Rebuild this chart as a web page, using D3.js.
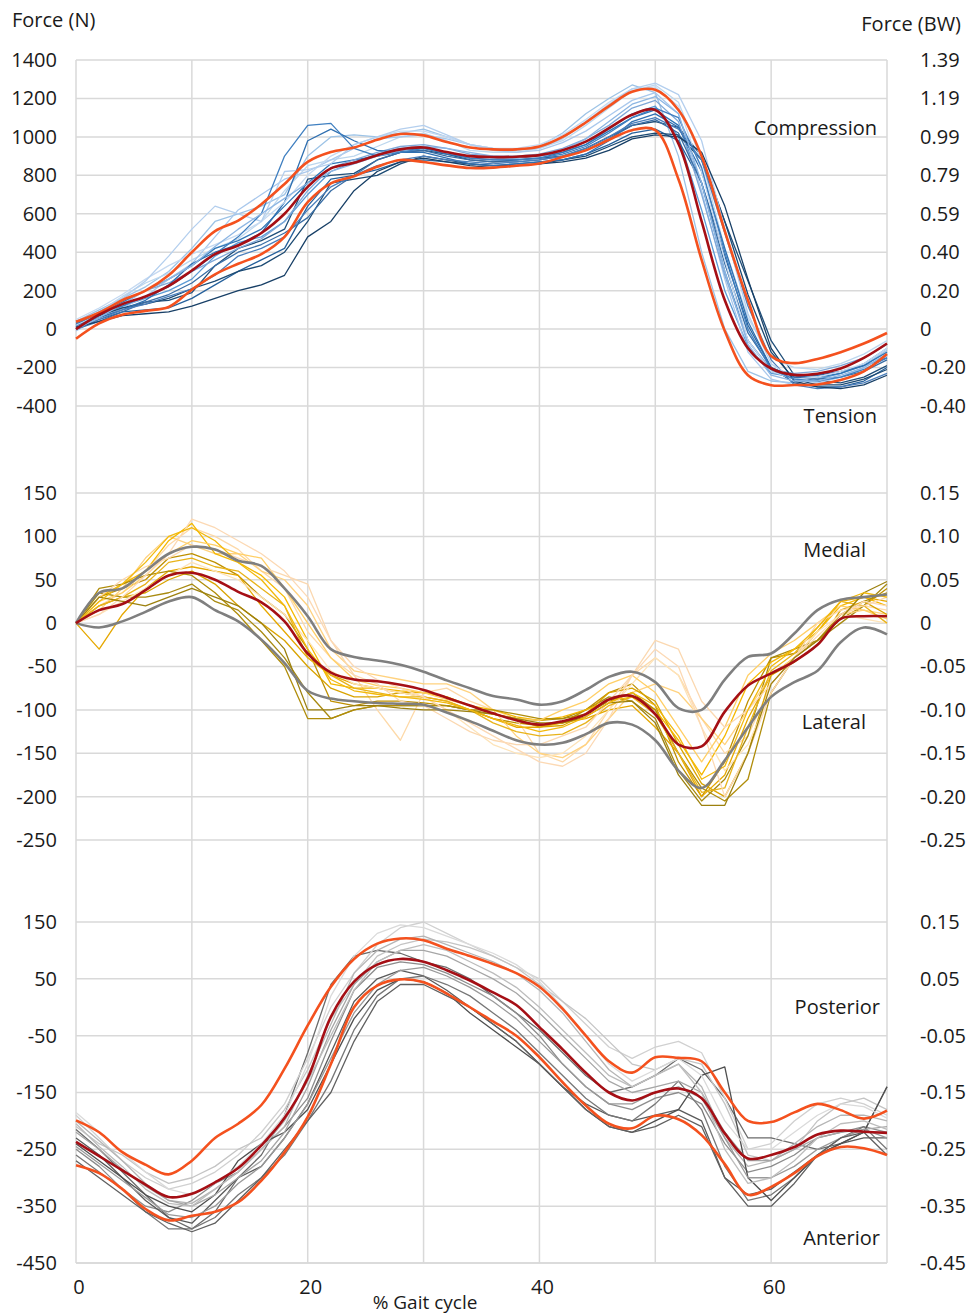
<!DOCTYPE html>
<html>
<head>
<meta charset="utf-8">
<script src="https://cdnjs.cloudflare.com/ajax/libs/d3/7.8.5/d3.min.js"></script>
<style>
  body { margin: 0; background: #fff; }
  svg text { font-family: "Open Sans", sans-serif; fill: #1a1a1a; }
</style>
</head>
<body>
<svg id="chart" width="968" height="1314"></svg>
<script>
// % gait cycle sample points (every 2 %)
var gaitPct = [0,2,4,6,8,10,12,14,16,18,20,22,24,26,28,30,32,34,36,38,40,42,44,46,48,50,52,54,56,58,60,62,64,66,68,70];

// ---- compression / tension (N)
var compMean = [0,75,130,170,225,305,390,435,500,600,740,836,865,905,935,945,921,900,895,897,905,930,975,1045,1115,1140,965,560,150,-100,-205,-238,-232,-205,-150,-75];
var compSdHi = [38,85,150,200,280,400,510,565,650,755,870,921,945,985,1015,1008,973,945,935,935,950,1000,1075,1160,1235,1245,1140,900,510,150,-140,-177,-155,-120,-75,-20];
var compSdLo = [-50,30,75,95,115,205,285,340,390,480,660,758,795,845,880,869,852,838,840,850,862,895,930,985,1035,1035,780,360,-10,-240,-292,-291,-288,-265,-220,-130];
var compTrials = [
  [20,60,110,140,150,190,330,420,460,520,780,800,810,880,920,930,910,880,870,880,890,900,940,1000,1060,1080,1050,900,560,250,-60,-240,-270,-280,-250,-190],
  [40,100,160,220,300,420,560,600,640,700,900,1000,1010,1000,1020,1040,1000,960,940,930,950,1020,1120,1200,1270,1230,900,400,0,-220,-270,-280,-260,-230,-190,-110],
  [0,70,120,160,200,260,380,450,480,560,700,820,870,910,940,950,920,900,890,890,900,920,960,1040,1120,1160,1000,620,200,-90,-230,-250,-260,-230,-180,-100],
  [10,50,90,100,110,160,230,300,360,420,640,780,800,830,870,880,870,860,850,860,870,880,910,960,1020,1040,980,760,380,20,-200,-280,-300,-300,-270,-200],
  [30,90,170,240,290,360,420,470,560,720,850,880,900,950,1000,1020,980,930,920,920,940,980,1060,1150,1240,1270,1180,880,420,60,-150,-200,-210,-180,-130,-60],
  [20,80,140,200,260,330,420,460,520,640,760,860,880,900,930,940,910,890,880,880,890,920,960,1030,1100,1140,1060,760,300,-60,-220,-260,-250,-230,-190,-120],
  [-10,60,110,170,260,340,480,620,700,780,820,880,940,990,1000,1010,990,960,930,920,930,970,1030,1110,1190,1230,1120,720,260,-120,-260,-290,-280,-250,-200,-140],
  [30,70,110,130,160,210,250,300,330,400,560,760,780,800,860,900,880,860,850,850,860,880,900,950,1000,1020,1010,880,560,180,-120,-260,-290,-290,-260,-210],
  [10,90,150,200,240,300,360,420,470,560,720,840,880,920,950,960,940,910,900,900,910,940,990,1060,1150,1190,1080,700,280,-60,-210,-230,-220,-190,-150,-80],
  [0,40,90,140,180,240,330,400,440,500,580,720,800,880,920,930,900,880,870,870,880,900,930,990,1060,1090,1020,760,340,-20,-200,-250,-260,-250,-220,-160],
  [20,60,100,150,230,340,400,440,500,660,980,1040,980,930,920,920,890,860,850,860,870,880,910,980,1080,1120,1050,820,420,40,-200,-250,-240,-220,-190,-150],
  [50,110,180,260,330,390,440,490,560,660,800,900,960,1000,1030,1030,1000,960,940,940,960,1010,1090,1180,1250,1260,1160,820,360,-60,-220,-260,-250,-220,-180,-100],
  [0,50,100,130,170,210,280,380,420,480,620,740,800,850,880,900,880,870,860,870,880,900,940,1000,1070,1100,1040,880,500,120,-160,-290,-310,-300,-280,-230],
  [20,80,160,250,380,520,640,600,560,820,830,860,960,1000,1040,1060,1010,960,940,930,940,990,1080,1170,1250,1280,1220,980,520,80,-180,-260,-280,-250,-200,-130],
  [10,40,70,80,90,120,160,200,230,280,480,560,720,820,870,890,870,850,840,850,860,870,890,930,990,1010,1000,920,640,260,-100,-270,-300,-310,-290,-240],
  [30,80,120,170,220,300,390,480,600,900,1060,1070,940,900,920,940,920,890,880,880,890,910,950,1020,1100,1150,1100,840,400,0,-210,-260,-270,-250,-210,-150],
  [0,60,130,200,260,330,430,520,600,680,760,820,860,900,930,950,940,920,900,890,900,930,990,1080,1170,1210,1120,760,300,-80,-240,-270,-270,-240,-200,-130]
];
var compColors = ["#1f4e79","#9dc3e6","#5b9bd5","#26619c","#bdd7ee","#2e75b6","#a9c8ec","#1c4a73","#7fa8d8","#3a6ea5","#2f6fb0","#c5d9f1","#4a7ebb","#b4cfee","#173f66","#3f7fc0","#8db6e3"];

// ---- medial / lateral (N)
var mlMean = [0,15,22,38,55,58,50,36,24,2,-35,-57,-65,-67,-71,-77,-86,-95,-104,-112,-117,-113,-105,-88,-84,-105,-140,-142,-102,-72,-58,-44,-25,5,8,8];
var mlSdHi = [0,35,40,60,80,88,85,72,66,40,8,-30,-39,-43,-48,-56,-66,-75,-84,-88,-94,-90,-77,-62,-56,-68,-98,-100,-65,-39,-35,-12,15,27,30,33];
var mlSdLo = [0,-5,2,13,25,30,15,2,-19,-46,-78,-87,-90,-92,-93,-94,-103,-113,-124,-135,-140,-138,-128,-115,-117,-135,-170,-190,-158,-120,-85,-68,-55,-22,-5,-13];
var mlTrials = [
  [0,30,40,50,75,80,70,55,30,10,-30,-90,-95,-90,-90,-92,-95,-100,-110,-115,-118,-115,-100,-80,-70,-95,-160,-200,-160,-90,-40,-35,-20,5,20,40],
  [0,20,35,60,90,110,100,85,60,40,-10,-40,-60,-100,-135,-80,-75,-90,-100,-110,-150,-160,-140,-100,-60,-40,-60,-110,-150,-130,-70,-40,-20,10,20,15],
  [0,-30,10,40,60,65,60,55,20,-10,-40,-60,-70,-75,-80,-85,-90,-100,-110,-120,-120,-115,-110,-100,-95,-120,-150,-200,-175,-110,-60,-40,-10,25,30,25],
  [0,35,30,30,35,45,25,15,-10,-40,-80,-110,-100,-95,-95,-95,-95,-100,-105,-110,-112,-110,-100,-85,-90,-110,-170,-205,-180,-130,-40,-30,-20,0,20,45],
  [0,15,40,75,100,90,80,80,60,50,20,-30,-55,-60,-65,-70,-70,-80,-100,-130,-150,-155,-140,-110,-80,-70,-80,-110,-140,-100,-60,-40,-20,10,15,10],
  [0,20,30,35,50,60,45,20,0,-20,-50,-75,-85,-85,-80,-80,-85,-95,-105,-110,-120,-118,-105,-80,-75,-90,-140,-185,-200,-150,-60,-45,-25,15,25,10],
  [0,30,45,60,95,115,80,70,55,30,-20,-70,-75,-75,-78,-80,-85,-95,-100,-108,-112,-108,-100,-90,-85,-100,-135,-175,-130,-70,-45,-30,-10,20,30,20],
  [0,10,25,40,55,70,60,50,30,10,-20,-55,-70,-75,-80,-85,-100,-120,-140,-150,-155,-150,-130,-100,-70,-40,-60,-120,-170,-140,-80,-40,-10,10,5,0],
  [0,40,45,55,60,55,35,10,-20,-50,-110,-110,-100,-95,-95,-95,-95,-100,-100,-105,-110,-110,-105,-90,-80,-100,-150,-190,-205,-180,-80,-40,-20,10,25,35],
  [0,25,35,55,80,95,90,80,75,40,0,-40,-65,-72,-75,-80,-88,-95,-105,-110,-112,-100,-90,-70,-60,-80,-120,-160,-120,-60,-35,-20,0,20,15,5],
  [0,20,30,45,70,75,65,60,40,20,-40,-60,-75,-80,-85,-85,-90,-100,-115,-125,-130,-128,-115,-95,-85,-105,-150,-195,-190,-120,-55,-35,-5,25,20,0],
  [0,30,50,65,75,90,85,75,65,55,45,-20,-60,-70,-90,-95,-110,-125,-135,-140,-140,-130,-120,-90,-60,-20,-30,-90,-120,-100,-70,-40,0,15,20,30],
  [0,10,30,55,80,120,110,95,80,60,30,-20,-50,-65,-75,-85,-100,-115,-130,-145,-160,-165,-150,-110,-60,-30,-50,-120,-200,-150,-80,-40,-15,10,25,20],
  [0,30,25,20,30,40,30,20,0,-30,-100,-100,-95,-95,-98,-100,-100,-102,-105,-110,-115,-115,-108,-92,-90,-115,-175,-210,-210,-150,-70,-40,-20,5,35,48],
  [0,25,45,70,100,110,95,70,50,20,-30,-65,-78,-82,-85,-88,-92,-100,-110,-118,-125,-120,-108,-92,-80,-95,-130,-180,-165,-100,-50,-30,-5,25,35,30]
];
var mlColors = ["#bf9000","#fdd9a8","#e6a800","#a88a10","#ffd27f","#d9a300","#f5b800","#fde3b8","#b08d0a","#ffcf66","#e8b31a","#fbd8b0","#fcd9b4","#9c800e","#f2b90c"];

// ---- posterior / anterior (N)
var apMean = [-237,-262,-287,-312,-334,-328,-308,-283,-243,-195,-125,-17,45,75,85,80,65,47,26,4,-35,-74,-115,-150,-164,-150,-143,-160,-222,-266,-260,-246,-224,-217,-219,-221];
var apSdHi = [-199,-220,-255,-277,-294,-270,-230,-205,-172,-108,-32,36,85,112,121,118,103,90,76,60,36,-3,-50,-95,-115,-88,-89,-95,-150,-200,-202,-185,-170,-181,-196,-182];
var apSdLo = [-278,-292,-320,-355,-375,-367,-360,-343,-305,-255,-193,-100,0,38,49,44,24,0,-25,-50,-88,-132,-173,-205,-213,-191,-197,-225,-276,-330,-316,-292,-262,-246,-248,-260];
var apTrials = [
  [-215,-250,-290,-330,-370,-390,-360,-300,-260,-190,-80,40,90,100,95,80,70,50,20,-10,-40,-80,-120,-150,-140,-120,-90,-110,-160,-230,-230,-240,-250,-240,-220,-140],
  [-190,-230,-270,-300,-320,-310,-290,-260,-220,-170,-90,0,60,110,140,150,130,110,90,70,50,10,-30,-70,-90,-70,-60,-80,-160,-250,-240,-200,-170,-160,-170,-190],
  [-250,-280,-320,-350,-360,-340,-310,-290,-250,-210,-160,-60,30,70,80,75,60,40,20,-10,-50,-100,-140,-170,-180,-160,-150,-170,-240,-290,-280,-260,-230,-220,-210,-220],
  [-230,-260,-300,-340,-370,-380,-340,-300,-280,-230,-170,-80,10,50,65,55,30,0,-30,-60,-100,-140,-170,-190,-200,-190,-180,-200,-300,-330,-320,-290,-260,-240,-230,-230],
  [-210,-240,-260,-290,-310,-300,-280,-250,-230,-180,-110,-20,40,90,110,120,115,105,90,70,40,10,-20,-60,-100,-110,-90,-100,-170,-260,-270,-250,-200,-170,-160,-180],
  [-260,-290,-320,-360,-390,-390,-370,-330,-300,-260,-200,-130,-40,20,50,55,40,20,-10,-40,-80,-120,-160,-190,-200,-170,-130,-180,-280,-340,-330,-300,-260,-230,-210,-250],
  [-200,-235,-270,-310,-340,-345,-320,-290,-250,-210,-120,-30,60,100,120,125,110,95,80,60,30,-10,-60,-110,-140,-120,-100,-140,-230,-280,-270,-240,-210,-190,-190,-200],
  [-240,-270,-300,-330,-350,-360,-330,-270,-240,-220,-180,-100,-20,30,50,45,25,-10,-40,-70,-100,-140,-180,-210,-220,-200,-180,-120,-105,-300,-340,-300,-260,-240,-220,-140],
  [-220,-250,-285,-315,-340,-350,-330,-300,-270,-220,-140,-40,40,80,100,100,90,70,50,25,-10,-50,-90,-130,-150,-140,-130,-150,-220,-270,-270,-250,-230,-220,-215,-210],
  [-245,-275,-305,-335,-365,-370,-350,-310,-280,-230,-170,-90,-10,40,65,70,55,35,10,-20,-60,-100,-140,-170,-170,-150,-140,-160,-230,-300,-300,-280,-250,-230,-215,-230],
  [-185,-220,-255,-290,-320,-330,-310,-280,-240,-190,-100,20,90,130,145,140,125,110,95,75,45,0,-50,-100,-130,-110,-90,-120,-200,-250,-250,-220,-190,-170,-175,-195],
  [-270,-300,-330,-360,-380,-395,-380,-340,-300,-250,-200,-150,-60,10,40,40,20,0,-30,-60,-100,-140,-180,-210,-220,-210,-190,-210,-300,-350,-350,-310,-260,-230,-220,-260],
  [-205,-245,-280,-320,-345,-350,-320,-290,-250,-200,-130,-50,30,80,100,110,100,80,60,35,0,-40,-80,-120,-140,-120,-100,-150,-250,-310,-300,-270,-230,-205,-200,-215]
];
var apColors = ["#6b6b6b","#d0d0d0","#8c8c8c","#5a5a5a","#c4c4c4","#777777","#b5b5b5","#4f4f4f","#a6a6a6","#9a9a9a","#dadada","#606060","#bdbdbd"];

// ---- axis labels
var compTicks = [1400,1200,1000,800,600,400,200,0,-200,-400];
var compBW = ["1.39","1.19","0.99","0.79","0.59","0.40","0.20","0","-0.20","-0.40"];
var mlTicks = [150,100,50,0,-50,-100,-150,-200,-250];
var mlBW = ["0.15","0.10","0.05","0","-0.05","-0.10","-0.15","-0.20","-0.25"];
var apTicks = [150,50,-50,-150,-250,-350,-450];
var apBW = ["0.15","0.05","-0.05","-0.15","-0.25","-0.35","-0.45"];
var xTicks = [0,20,40,60];
var xGrid = [0,10,20,30,40,50,60,70];

var MEAN_COL = "#a50f15", SD_COL = "#f4511e", SD_GREY = "#7f7f7f", GRID = "#d9d9d9";
var FS = "20px";

var svg = d3.select("#chart");
var x = d3.scaleLinear().domain([0, 70]).range([76, 887]);

var panels = [
  { y: d3.scaleLinear().domain([-400, 1400]).range([406, 60]), ticks: compTicks, bw: compBW,
    mean: compMean, hi: compSdHi, lo: compSdLo, sdColor: SD_COL, trials: compTrials, colors: compColors,
    top: "Compression", bottom: "Tension", topY: 135, bottomY: 423, labelX: 877 },
  { y: d3.scaleLinear().domain([-250, 150]).range([840, 493]), ticks: mlTicks, bw: mlBW,
    mean: mlMean, hi: mlSdHi, lo: mlSdLo, sdColor: SD_GREY, trials: mlTrials, colors: mlColors,
    top: "Medial", bottom: "Lateral", topY: 557, bottomY: 729, labelX: 866 },
  { y: d3.scaleLinear().domain([-450, 150]).range([1263, 922]), ticks: apTicks, bw: apBW,
    mean: apMean, hi: apSdHi, lo: apSdLo, sdColor: SD_COL, trials: apTrials, colors: apColors,
    top: "Posterior", bottom: "Anterior", topY: 1014, bottomY: 1245, labelX: 880 }
];

// vertical gridlines run through all three panels
svg.append("g").selectAll("line").data(xGrid).enter().append("line")
  .attr("x1", function(d) { return x(d); }).attr("x2", function(d) { return x(d); })
  .attr("y1", 60).attr("y2", 1263)
  .attr("stroke", GRID).attr("stroke-width", 1.5);

panels.forEach(function(p) {
  // horizontal grid
  svg.append("g").selectAll("line").data(p.ticks).enter().append("line")
    .attr("x1", x(0)).attr("x2", x(70))
    .attr("y1", function(d) { return p.y(d); }).attr("y2", function(d) { return p.y(d); })
    .attr("stroke", GRID).attr("stroke-width", 1.5);

  // left axis (N)
  var left = svg.append("g").attr("transform", "translate(62,0)")
    .call(d3.axisLeft(p.y).tickValues(p.ticks).tickSize(0).tickPadding(5)
      .tickFormat(function(d) { return String(d); }));
  left.select(".domain").remove();
  left.selectAll("text").style("font-family", "Open Sans").style("font-size", FS).attr("fill", "#1a1a1a");

  // right axis (BW)
  var right = svg.append("g").attr("transform", "translate(915,0)")
    .call(d3.axisRight(p.y).tickValues(p.ticks).tickSize(0).tickPadding(5)
      .tickFormat(function(d, i) { return p.bw[i]; }));
  right.select(".domain").remove();
  right.selectAll("text").style("font-family", "Open Sans").style("font-size", FS).attr("fill", "#1a1a1a");

  var line = d3.line()
    .x(function(d, i) { return x(gaitPct[i]); })
    .y(function(d) { return p.y(d); });
  var smooth = d3.line()
    .x(function(d, i) { return x(gaitPct[i]); })
    .y(function(d) { return p.y(d); })
    .curve(d3.curveCatmullRom.alpha(0.5));

  svg.append("g").selectAll("path").data(p.trials).enter().append("path")
    .attr("d", line)
    .attr("fill", "none")
    .attr("stroke", function(d, i) { return p.colors[i % p.colors.length]; })
    .attr("stroke-width", 1.3)
    .attr("stroke-linejoin", "round");

  [p.hi, p.lo].forEach(function(s) {
    svg.append("path").datum(s).attr("d", smooth)
      .attr("fill", "none").attr("stroke", p.sdColor).attr("stroke-width", 2.6);
  });
  svg.append("path").datum(p.mean).attr("d", smooth)
    .attr("fill", "none").attr("stroke", MEAN_COL).attr("stroke-width", 2.6);

  svg.append("text").attr("x", p.labelX).attr("y", p.topY)
    .attr("text-anchor", "end").style("font-size", FS).text(p.top);
  svg.append("text").attr("x", p.labelX).attr("y", p.bottomY)
    .attr("text-anchor", "end").style("font-size", FS).text(p.bottom);
});

// bottom axis line
svg.append("line").attr("x1", x(0)).attr("x2", x(70)).attr("y1", 1263).attr("y2", 1263)
  .attr("stroke", GRID).attr("stroke-width", 1.5);

svg.append("g").selectAll("text").data(xTicks).enter().append("text")
  .attr("x", function(d) { return x(d) + 3; }).attr("y", 1294)
  .attr("text-anchor", "middle").style("font-size", FS)
  .text(function(d) { return d; });

svg.append("text").attr("x", 425).attr("y", 1309).attr("text-anchor", "middle")
  .style("font-size", "19px").text("% Gait cycle");
svg.append("text").attr("x", 12).attr("y", 27).style("font-size", FS).text("Force (N)");
svg.append("text").attr("x", 961).attr("y", 31).attr("text-anchor", "end")
  .style("font-size", FS).text("Force (BW)");
</script>
</body>
</html>
